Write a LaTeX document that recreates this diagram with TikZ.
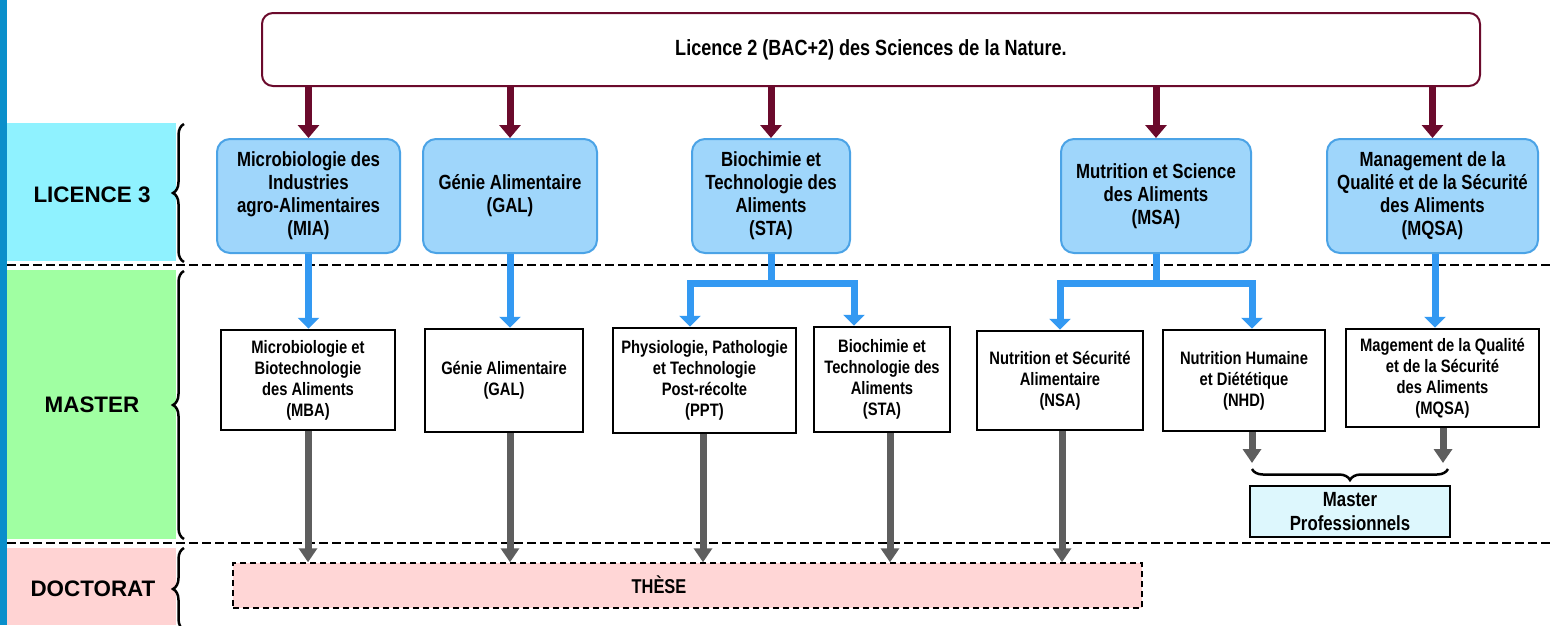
\documentclass[tikz,border=0pt]{standalone}
\usepackage{fontspec}
\setmainfont{Liberation Sans}
\newfontfamily\nar{Liberation Sans}[FakeStretch=0.82]
\usetikzlibrary{arrows.meta,decorations.pathreplacing,calc}
\definecolor{stripe}{HTML}{0A8FCB}
\definecolor{bandA}{HTML}{8FF2FF}
\definecolor{bandB}{HTML}{A0FFA2}
\definecolor{bandC}{HTML}{FFD3D3}
\definecolor{maroon}{HTML}{6B0A2C}
\definecolor{lfill}{HTML}{9FD6FB}
\definecolor{lborder}{HTML}{4BA3E6}
\definecolor{barblue}{HTML}{3399F2}
\definecolor{greyar}{HTML}{5E5E5E}
\definecolor{mpfill}{HTML}{DDF7FD}
\definecolor{thfill}{HTML}{FFD6D6}
\begin{document}
\begin{tikzpicture}[x=1pt,y=-1pt,
 topbox/.style={draw=maroon, line width=2pt, rounded corners=11pt, fill=white, minimum width=1218pt, minimum height=73pt, font=\nar\bfseries\fontsize{22}{26}\selectfont, inner sep=0pt},
 lbox/.style={draw=lborder, fill=lfill, line width=2pt, rounded corners=13pt, align=center, minimum height=114pt, inner sep=0pt, font=\nar\bfseries\fontsize{20.5}{23}\selectfont},
 mbox/.style={draw=black, fill=white, line width=2.5pt, align=center, inner sep=0pt, font=\nar\bfseries\fontsize{18}{21}\selectfont},
 mpbox/.style={draw=black, fill=mpfill, line width=2pt, align=center, inner sep=0pt, font=\nar\bfseries\fontsize{20.5}{24}\selectfont},
 thbox/.style={draw=black, fill=thfill, line width=1.5pt, dash pattern=on 6pt off 4pt, inner sep=0pt},
 thtext/.style={font=\nar\bfseries\fontsize{20}{24}\selectfont, inner sep=0pt},
 levlabel/.style={font=\bfseries\fontsize{22.4}{26}\selectfont, inner sep=0pt},
 redarrow/.style={draw=maroon, line width=7pt, -{Triangle[width=21pt,length=13pt]}},
 bluearrow/.style={draw=barblue, line width=7pt, -{Triangle[width=21pt,length=11pt]}},
 blueline/.style={draw=barblue, line width=7pt},
 greyarrow/.style={draw=greyar, line width=7pt, -{Triangle[width=18pt,length=14pt]}},
 sepline/.style={line width=2.5pt, dash pattern=on 9pt off 4pt},
 lbrace/.style={decorate, decoration={brace, amplitude=11pt}, line width=2.5pt},
]
\useasboundingbox (0,0) rectangle (1551,625);
\clip (0,0) rectangle (1551,625);
% left bands
\fill[stripe] (0,0) rectangle (7,625);
\fill[bandA] (7,123) rectangle (176,261);
\fill[bandB] (7,270) rectangle (176,539);
\fill[bandC] (7,548) rectangle (176,625);
\node[levlabel] (lab1) at (92,195) {LICENCE 3};
\node[levlabel] (lab2) at (92,405) {MASTER};
\node[levlabel] (lab3) at (93,589) {DOCTORAT};
\draw[lbrace] (184,262) -- (184,124);
\draw[lbrace] (184,539) -- (184,271);
\draw[lbrace] (184,630) -- (184,548);
% separators
\draw[sepline] (7,265) -- (1551,265);
\draw[sepline] (7,543) -- (1551,543);
% top
\node[topbox] (top) at (871,49.5) {Licence 2 (BAC+2) des Sciences de la Nature.};
% licence 3
\node[lbox, minimum width=183pt] (mia) at (308.5,196) {Microbiologie des\\Industries\\agro-Alimentaires\\(MIA)};
\node[lbox, minimum width=174pt] (gal) at (510,196) {Génie Alimentaire\\(GAL)};
\node[lbox, minimum width=158pt] (sta) at (771,196) {Biochimie et\\Technologie des\\Aliments\\(STA)};
\node[lbox, minimum width=190pt] (msa) at (1156,196) {Mutrition et Science\\des Aliments\\(MSA)};
\node[lbox, minimum width=211pt] (mqsa) at (1432.5,196) {Management de la\\Qualité et de la Sécurité\\des Aliments\\(MQSA)};
\foreach \n in {mia,gal,sta,msa,mqsa}
  \draw[redarrow] (top.south -| \n.north) -- (\n.north);
% master
\node[mbox, minimum width=174pt, minimum height=100pt] (mba) at (308,380) {Microbiologie et\\Biotechnologie\\des Aliments\\(MBA)};
\node[mbox, minimum width=158pt, minimum height=103pt] (galm) at (504,380.5) {Génie Alimentaire\\(GAL)};
\node[mbox, minimum width=183pt, minimum height=105pt] (ppt) at (704.5,380.5) {Physiologie, Pathologie\\et Technologie\\Post-récolte\\(PPT)};
\node[mbox, minimum width=136pt, minimum height=105pt] (stam) at (882,379.5) {Biochimie et\\Technologie des\\Aliments\\(STA)};
\node[mbox, minimum width=166pt, minimum height=99pt] (nsa) at (1060,380.5) {Nutrition et Sécurité\\Alimentaire\\(NSA)};
\node[mbox, minimum width=162pt, minimum height=101pt] (nhd) at (1244,380.5) {Nutrition Humaine\\et Diététique\\(NHD)};
\node[mbox, minimum width=193pt, minimum height=98pt] (mqsam) at (1442.5,378) {Magement de la Qualité\\et de la Sécurité\\des Aliments\\(MQSA)};
% blue connectors
\draw[bluearrow] (mia.south) -- (mia.south |- mba.north);
\draw[bluearrow] (gal.south) -- (gal.south |- galm.north);
\coordinate (staj) at (sta.south |- 0,283);
\draw[blueline] (sta.south) -- (staj);
\draw[bluearrow] (staj) -| (ppt.north -| 690,0);
\draw[bluearrow] (staj) -| (stam.north -| 854,0);
\coordinate (msaj) at (msa.south |- 0,283);
\draw[blueline] (msa.south) -- (msaj);
\draw[bluearrow] (msaj) -| (nsa.north -| 1060,0);
\draw[bluearrow] (msaj) -| (nhd.north -| 1252,0);
\draw[bluearrow] (mqsa.south -| 1435,0) -- (mqsam.north -| 1435,0);
% doctorat
\node[thbox, minimum width=909pt, minimum height=45pt] (these) at (687.5,585.5) {};
\node[thtext] (thlabel) at (659,585) {THÈSE};
\draw[greyarrow] (mba.south) -- (mba.south |- these.north);
\draw[greyarrow] (galm.south -| gal.south) -- (these.north -| gal.south);
\draw[greyarrow] (ppt.south -| 703,0) -- (these.north -| 703,0);
\draw[greyarrow] (stam.south -| 890,0) -- (these.north -| 890,0);
\draw[greyarrow] (nsa.south -| 1062,0) -- (these.north -| 1062,0);
% master professionnels
\node[mpbox, minimum width=200pt, minimum height=51pt] (mp) at (1350,511.5) {Master\\Professionnels};
\coordinate (mpl) at (1252,463);
\coordinate (mpr) at (1443,463);
\draw[greyarrow] (nhd.south -| mpl) -- (mpl);
\draw[greyarrow] (mqsam.south -| mpr) -- (mpr);
\draw[lbrace] (1448,469) -- (1252,469);
\end{tikzpicture}
\end{document}
